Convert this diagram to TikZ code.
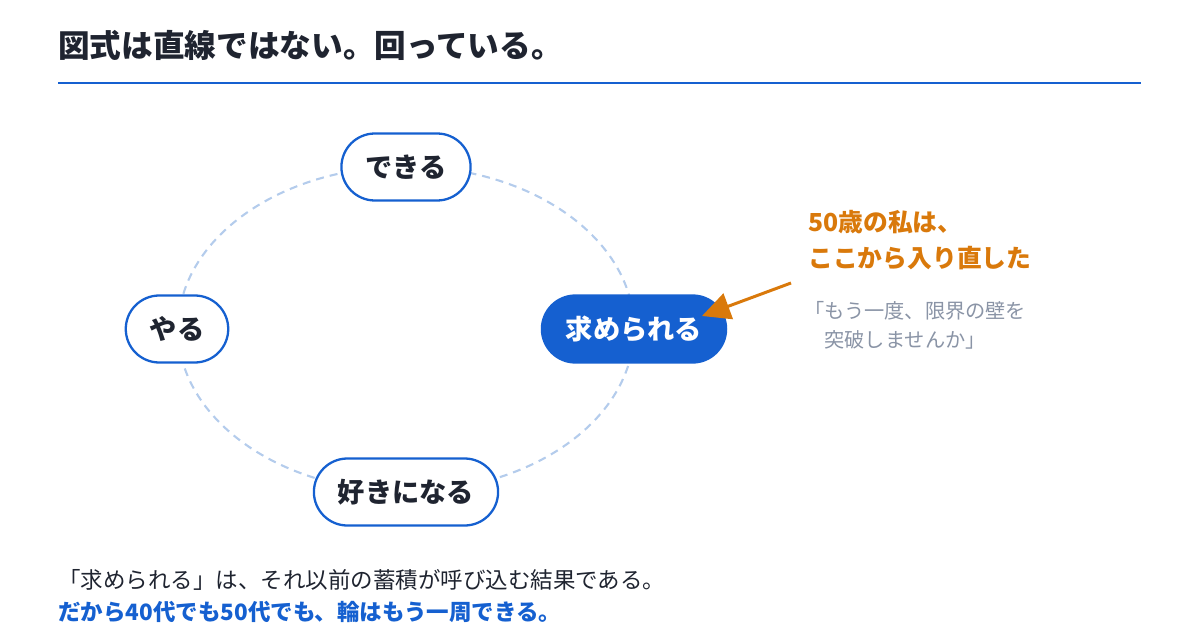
\documentclass[tikz,border=0pt]{standalone}
\usepackage{fontspec}
\setmainfont{Noto Sans CJK JP}
\usetikzlibrary{arrows.meta}
\definecolor{ringblue}{HTML}{1560D0}
\definecolor{ringpale}{HTML}{B4CCEC}
\definecolor{inkdark}{HTML}{1F2430}
\definecolor{accent}{HTML}{D9790B}
\definecolor{softgray}{HTML}{8A94A6}

\begin{document}
\begin{tikzpicture}[
    stage/.style={draw=ringblue, line width=1.3pt, fill=white, text=inkdark,
      rounded corners=0.67cm, minimum height=1.34cm, inner xsep=0.48cm, inner ysep=0pt,
      font=\bfseries\fontsize{15.5}{18}\selectfont},
    now/.style={stage, fill=ringblue, text=white},
    ring/.style={draw=ringpale, line width=1.2pt, dash pattern=on 0.16cm off 0.12cm},
    pointer/.style={draw=accent, line width=1.7pt, -{Triangle[length=0.56cm,width=0.54cm]}}
  ]
  \useasboundingbox (0,0) rectangle (24,12.78);

  % Heading and rule
  \node[anchor=west, inner sep=0, text=inkdark, font=\bfseries\fontsize{18}{21}\selectfont]
    (title) at (1.16,11.88) {図式は直線ではない。回っている。};
  \coordinate (ruleL) at (1.16,11.12);
  \coordinate (ruleR) at (22.82,11.12);
  \draw[ringblue, line width=1.7pt] (ruleL) -- (ruleR);

  % The cycle
  \draw[ring] (8.12,6.20) ellipse [x radius=4.56cm, y radius=3.25cm];
  \node[stage] (dekiru) at (8.12,9.44) {できる};
  \node[stage] (yaru) at (3.54,6.20) {やる};
  \node[now] (motome) at (12.68,6.20) {求められる};
  \node[stage] (suki) at (8.12,2.94) {好きになる};

  % Note on the right
  \node[anchor=west, inner sep=0, align=left, text=accent, font=\bfseries\fontsize{14.1}{20.5}\selectfont]
    (note) at (16.16,7.98) {50歳の私は、\\ここから入り直した};
  \node[anchor=west, inner sep=0, align=left, text=softgray, font=\fontsize{11.5}{16.5}\selectfont]
    (quote) at (16.08,6.27) {「もう一度、限界の壁を\\\hspace*{1em}突破しませんか」};
  \coordinate (tipfrom) at (15.82,7.12);
  \coordinate (tipto) at (14.04,6.46);
  \draw[pointer] (tipfrom) -- (tipto);

  % Closing lines
  \node[anchor=west, inner sep=0, text=inkdark, font=\fontsize{12.8}{15}\selectfont]
    (close1) at (1.16,1.18) {「求められる」は、それ以前の蓄積が呼び込む結果である。};
  \node[anchor=west, inner sep=0, text=ringblue, font=\bfseries\fontsize{12.8}{15}\selectfont]
    (close2) at (1.16,0.54) {だから40代でも50代でも、輪はもう一周できる。};
\end{tikzpicture}
\end{document}
